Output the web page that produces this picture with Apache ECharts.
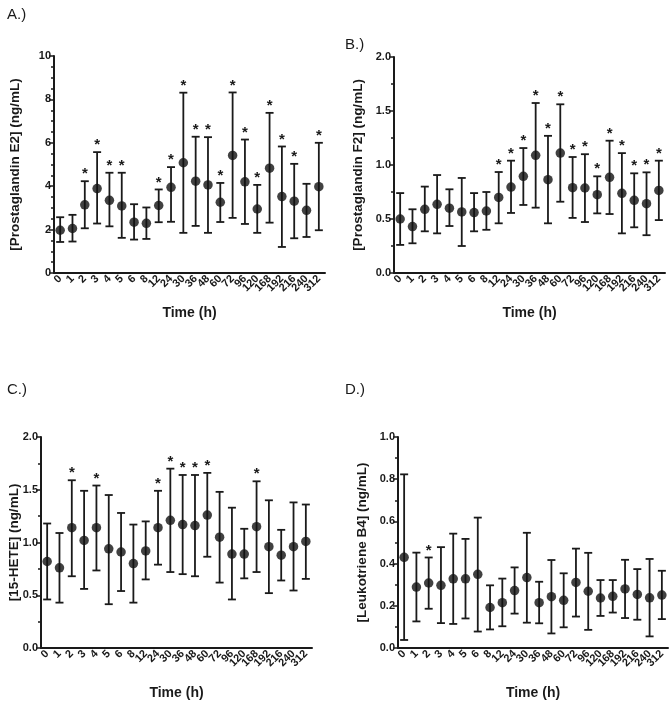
<!DOCTYPE html>
<html><head><meta charset="utf-8">
<script src="https://cdn.jsdelivr.net/npm/echarts@6/dist/echarts.min.js"></script>
<style>html,body{margin:0;padding:0;background:#fff}#c{width:669px;height:701px}</style>
</head><body><div id="c"></div>
<script>
const categories = ['0','1','2','3','4','5','6','8','12','24','30','36','48','60','72','96','120','168','192','216','240','312'];

// Panel A: Prostaglandin E2
const meanA = [1.97,2.05,3.14,3.89,3.35,3.09,2.34,2.29,3.11,3.95,5.08,4.23,4.06,3.26,5.42,4.20,2.95,4.83,3.52,3.31,2.89,3.98];
const lowA  = [1.43,1.45,2.06,2.28,2.15,1.62,1.54,1.57,2.34,2.36,1.85,2.17,1.85,2.35,2.54,2.26,1.85,2.32,1.20,1.60,1.66,1.97];
const highA = [2.57,2.68,4.23,5.57,4.62,4.62,3.17,3.02,3.85,4.88,8.31,6.28,6.26,4.15,8.32,6.15,4.06,7.38,5.83,5.03,4.11,6.00];
const sigA  = ['2','3','4','5','12','24','30','36','48','60','72','96','120','168','192','216','312'];

// Panel B: Prostaglandin F2
const meanB = [0.50,0.43,0.59,0.636,0.60,0.565,0.56,0.574,0.70,0.796,0.895,1.09,0.864,1.11,0.79,0.787,0.725,0.886,0.738,0.673,0.642,0.765];
const lowB  = [0.26,0.275,0.386,0.367,0.435,0.25,0.386,0.40,0.46,0.556,0.63,0.605,0.46,0.66,0.51,0.472,0.552,0.546,0.367,0.423,0.35,0.49];
const highB = [0.74,0.59,0.80,0.907,0.775,0.88,0.74,0.75,0.935,1.04,1.157,1.574,1.27,1.562,1.074,1.10,0.895,1.225,1.11,0.923,0.932,1.04];
const sigB  = ['12','24','30','36','48','60','72','96','120','168','192','216','240','312'];

// Panel C: 15-HETE
const meanC = [0.82,0.76,1.14,1.02,1.14,0.94,0.91,0.80,0.92,1.14,1.21,1.17,1.16,1.26,1.05,0.89,0.89,1.15,0.96,0.88,0.96,1.01];
const lowC  = [0.46,0.43,0.68,0.56,0.735,0.415,0.54,0.43,0.65,0.79,0.72,0.70,0.68,0.865,0.62,0.46,0.66,0.72,0.52,0.64,0.545,0.655];
const highC = [1.18,1.09,1.59,1.49,1.54,1.45,1.28,1.17,1.20,1.49,1.70,1.64,1.64,1.66,1.48,1.33,1.13,1.58,1.40,1.12,1.38,1.36];
const sigC  = ['2','4','24','30','36','48','60','168'];

// Panel D: Leukotriene B4
const meanD = [0.43,0.289,0.308,0.297,0.328,0.328,0.349,0.192,0.215,0.272,0.334,0.215,0.243,0.226,0.311,0.269,0.237,0.245,0.28,0.254,0.238,0.251];
const lowD  = [0.038,0.126,0.186,0.118,0.114,0.14,0.078,0.088,0.103,0.163,0.12,0.117,0.069,0.098,0.149,0.086,0.152,0.168,0.142,0.134,0.055,0.137];
const highD = [0.823,0.452,0.429,0.478,0.542,0.517,0.618,0.297,0.329,0.382,0.546,0.314,0.417,0.354,0.471,0.451,0.322,0.322,0.418,0.374,0.422,0.366];
const sigD  = ['2'];

const yNames = ['[Prostaglandin E2] (ng/mL)','[Prostaglandin F2] (ng/mL)','[15-HETE] (ng/mL)','[Leukotriene B4] (ng/mL)'];
const panelLetters = ['A.)','B.)','C.)','D.)'];

const FONT = '"Liberation Sans", Arial, sans-serif';
const INK = '#1a1a1a';
const panels = [
  {mean:meanA, low:lowA, high:highA, sig:sigA, max:10, interval:2, minorSplit:4, grid:{left:54, top:56, width:271, height:217}, nameGap:32, xNameGap:33, dec:0},
  {mean:meanB, low:lowB, high:highB, sig:sigB, max:2, interval:0.5, minorSplit:2, grid:{left:394, top:57, width:271, height:216}, nameGap:29, xNameGap:33, dec:1},
  {mean:meanC, low:lowC, high:highC, sig:sigC, max:2, interval:0.5, minorSplit:2, grid:{left:41, top:437, width:271, height:216}, nameGap:20, xNameGap:38, dec:1},
  {mean:meanD, low:lowD, high:highD, sig:sigD, max:1, interval:0.2, minorSplit:2, grid:{left:398, top:437, width:270, height:216}, nameGap:29, xNameGap:38, dec:1}
];

const grids = [], xAxes = [], yAxes = [], series = [];
const axisLineStyle = {color:INK, width:2};
panels.forEach((p, i) => {
  grids.push(p.grid);
  xAxes.push({
    type:'category', gridIndex:i, data:categories, boundaryGap:true,
    name:'Time (h)', nameLocation:'middle', nameGap:p.xNameGap, nameMoveOverlap:false,
    nameTextStyle:{fontFamily:FONT, fontWeight:'bold', fontSize:14, color:INK},
    axisLine:{lineStyle:axisLineStyle},
    axisTick:{alignWithLabel:true, length:4, lineStyle:{color:INK, width:1.5}},
    axisLabel:{rotate:45, interval:0, fontFamily:FONT, fontWeight:'bold', fontSize:11, color:INK, margin:4},
    splitLine:{show:false}
  });
  yAxes.push({
    type:'value', gridIndex:i, min:0, max:p.max, interval:p.interval,
    name:yNames[i], nameLocation:'middle', nameGap:p.nameGap, nameMoveOverlap:false,
    nameTextStyle:{fontFamily:FONT, fontWeight:'bold', fontSize:13.5, color:INK},
    axisLine:{show:true, lineStyle:axisLineStyle},
    axisTick:{show:true, length:5, lineStyle:{color:INK, width:1.5}},
    minorTick:{show:true, splitNumber:p.minorSplit, length:3, lineStyle:{color:INK, width:1.5}},
    axisLabel:{fontFamily:FONT, fontWeight:'bold', fontSize:11, color:INK, margin:3,
      formatter: v => v.toFixed(p.dec)},
    splitLine:{show:false}
  });
  const sigIdx = p.sig.map(c => categories.indexOf(c));
  // error bars + stars
  series.push({
    type:'custom', xAxisIndex:i, yAxisIndex:i, silent:true,
    data: categories.map((c, k) => [k, p.low[k], p.high[k]]),
    renderItem: (params, api) => {
      const x = api.value(0);
      const lo = api.coord([x, api.value(1)]);
      const hi = api.coord([x, api.value(2)]);
      const hw = 4;
      const st = {stroke:INK, lineWidth:1.8};
      const children = [
        {type:'line', shape:{x1:lo[0], y1:lo[1], x2:hi[0], y2:hi[1]}, style:st},
        {type:'line', shape:{x1:hi[0]-hw, y1:hi[1], x2:hi[0]+hw, y2:hi[1]}, style:st},
        {type:'line', shape:{x1:lo[0]-hw, y1:lo[1], x2:lo[0]+hw, y2:lo[1]}, style:st}
      ];
      if (sigIdx.indexOf(params.dataIndex) >= 0) {
        children.push({type:'text', x:hi[0], y:hi[1]-7, style:{text:'*', fontFamily:FONT, fontWeight:'bold', fontSize:15, fill:INK, align:'center', verticalAlign:'middle'}});
      }
      return {type:'group', children:children};
    },
    z:2
  });
  // means
  series.push({
    type:'scatter', xAxisIndex:i, yAxisIndex:i, silent:true,
    data: categories.map((c, k) => [k, p.mean[k]]),
    symbol:'circle', symbolSize:9.5, itemStyle:{color:'#111'}, z:3
  });
});

const graphic = [
  {type:'text', left:7, top:7, style:{text:panelLetters[0], fontFamily:FONT, fontSize:15, fill:INK}},
  {type:'text', left:345, top:37, style:{text:panelLetters[1], fontFamily:FONT, fontSize:15, fill:INK}},
  {type:'text', left:7, top:382, style:{text:panelLetters[2], fontFamily:FONT, fontSize:15, fill:INK}},
  {type:'text', left:345, top:382, style:{text:panelLetters[3], fontFamily:FONT, fontSize:15, fill:INK}}
];

const chart = echarts.init(document.getElementById('c'), null, {renderer:'canvas'});
chart.setOption({animation:false, backgroundColor:'#fff', grid:grids, xAxis:xAxes, yAxis:yAxes, series:series, graphic:graphic});
</script></body></html>
